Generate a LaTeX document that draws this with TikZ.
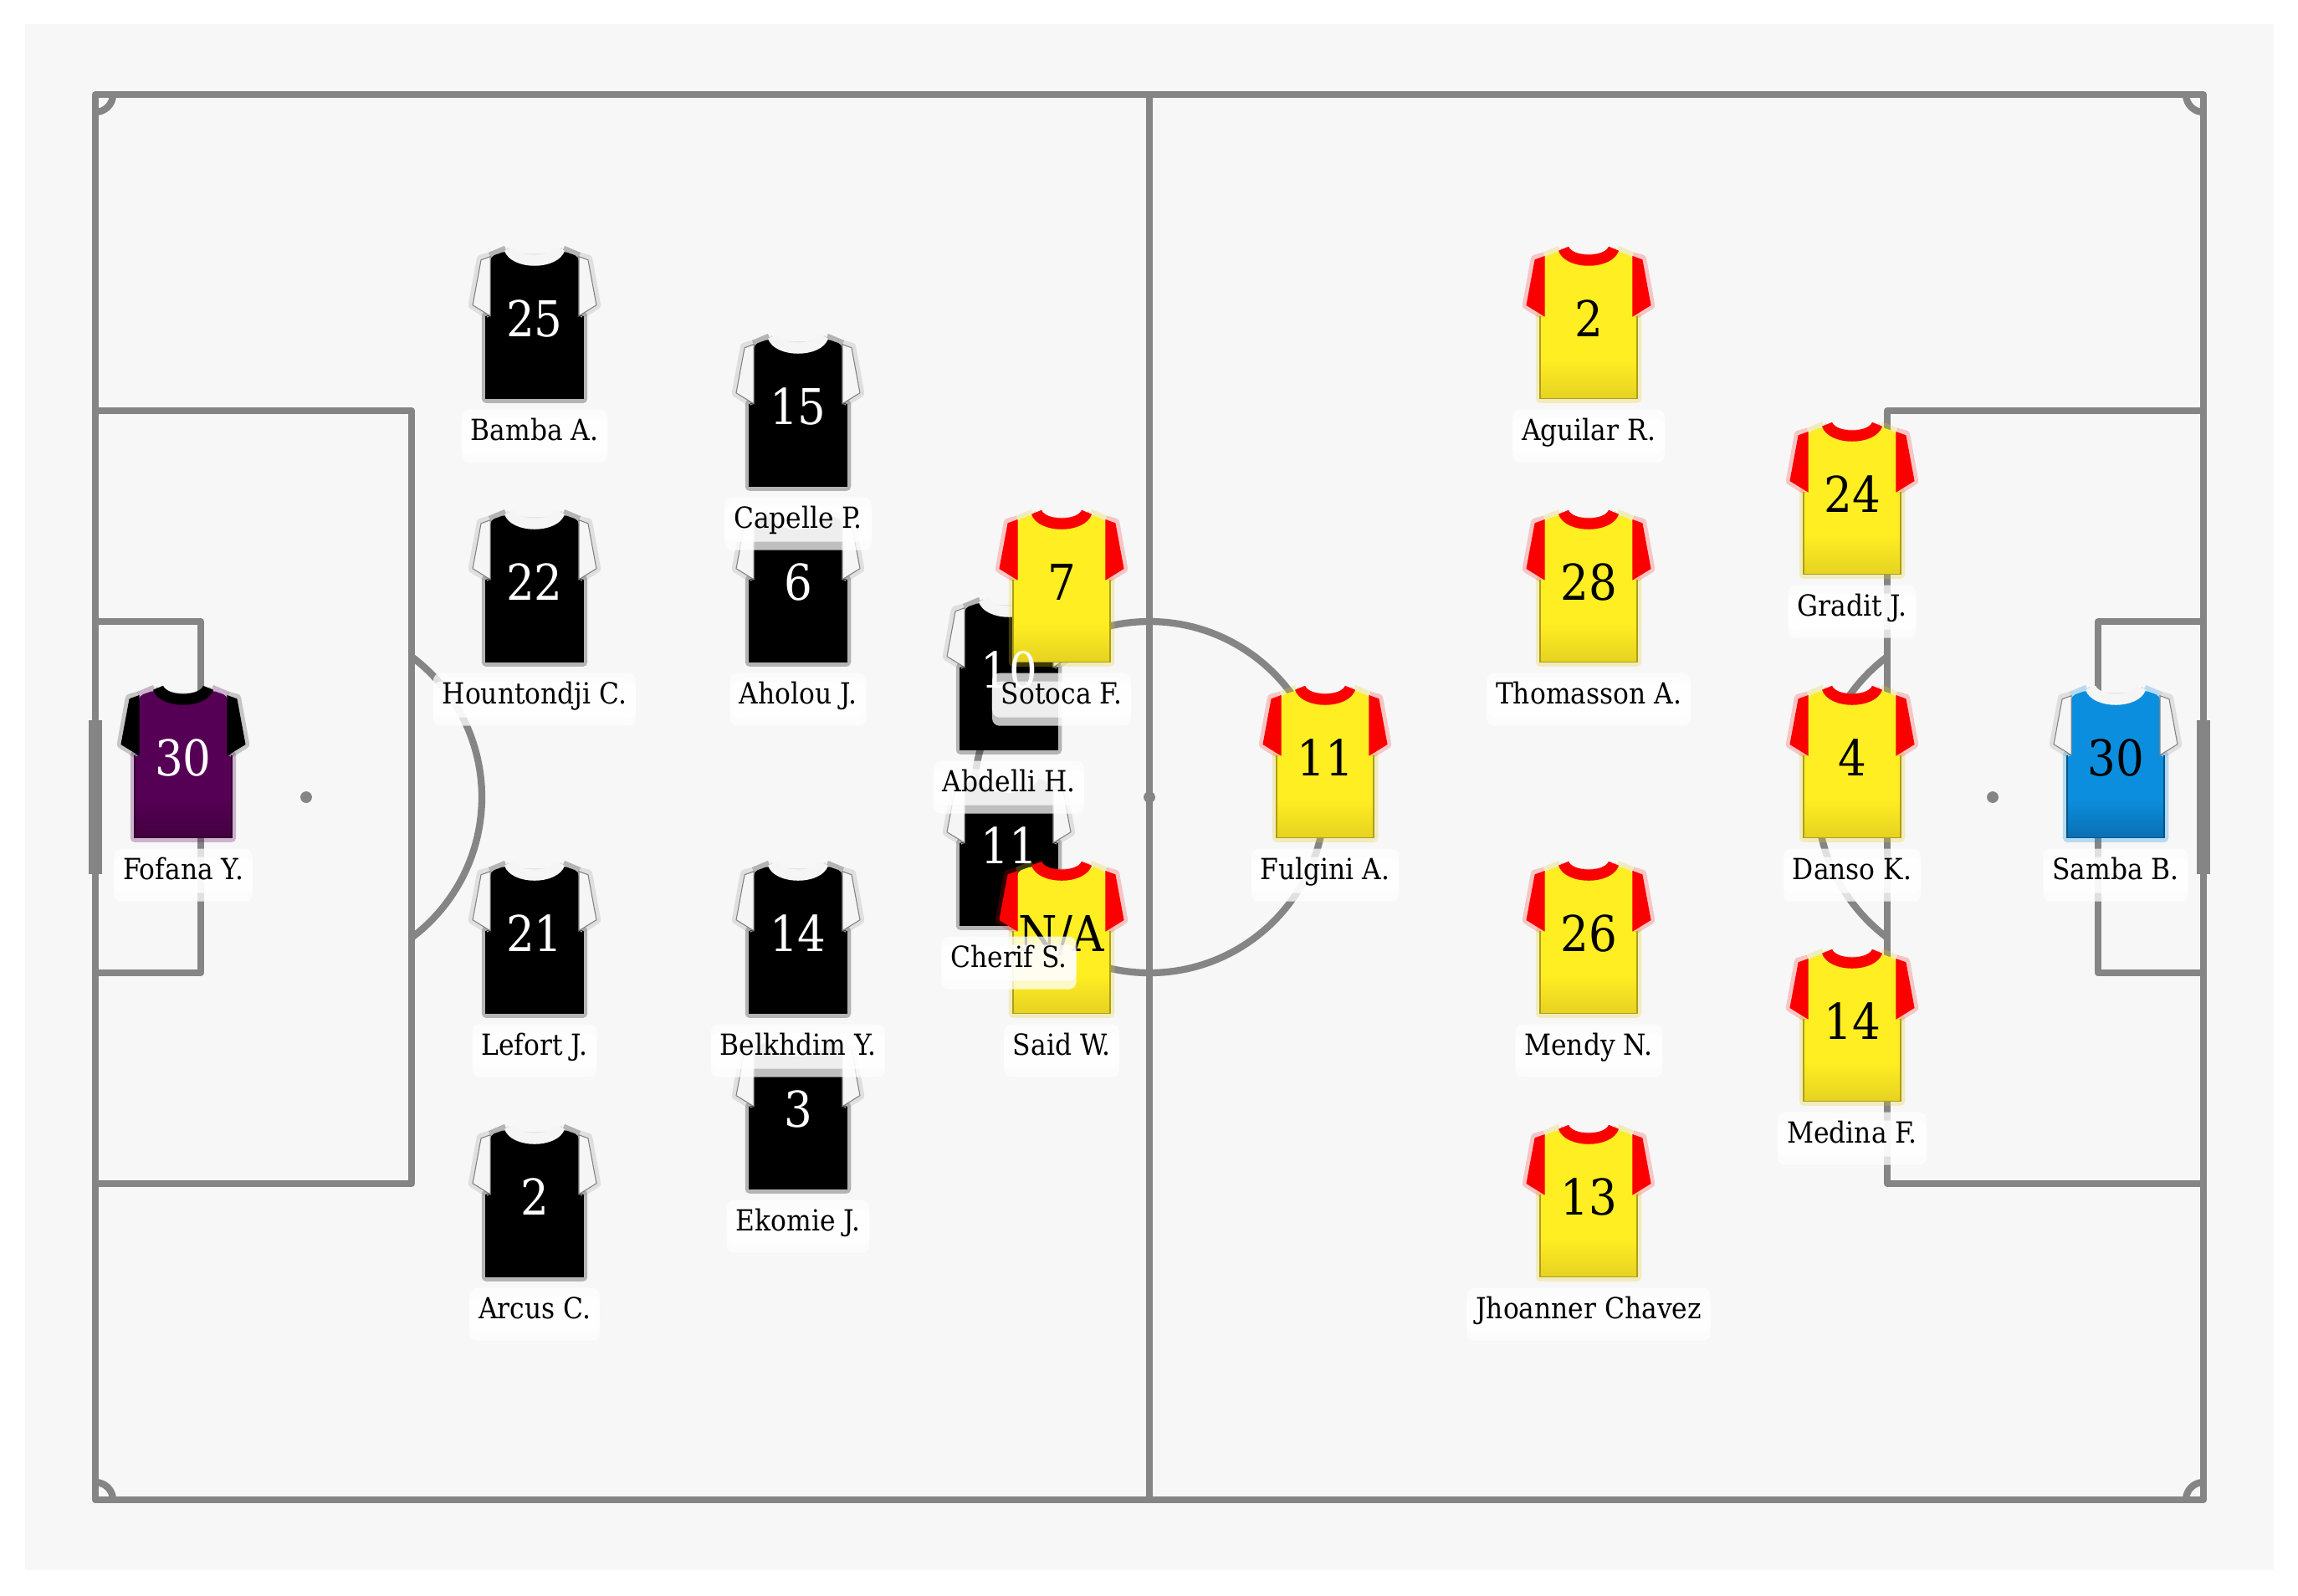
\documentclass[tikz,border=0pt]{standalone}
\usepackage{fontspec}
\setmainfont{DejaVu Serif Condensed}
\usetikzlibrary{positioning}

\definecolor{pitchline}{HTML}{858585}
\definecolor{pitchbg}{HTML}{F7F7F7}
\definecolor{kitwhite}{HTML}{F5F5F5}
\definecolor{kitred}{HTML}{FA0000}
\definecolor{kityellow}{HTML}{FFEE22}
\definecolor{kityellowdark}{HTML}{E6D222}
\definecolor{kitpurple}{HTML}{550055}
\definecolor{kitpurpledark}{HTML}{42003F}
\definecolor{kitblue}{HTML}{0C8EDE}
\definecolor{kitbluedark}{HTML}{0A6FB2}

\tikzset{
  pitch/.style={draw=pitchline, line width=2.36pt, line join=round},
  numlabel/.style={anchor=base, inner sep=0pt, font=\fontsize{16.8}{18}\selectfont},
  namebox/.style={fill=white, fill opacity=.75, rounded corners=.09cm, inner ysep=0pt, inner xsep=.11cm, font=\fontsize{9.9}{11}\selectfont},
  nametext/.style={anchor=base, inner sep=0pt, font=\fontsize{9.9}{11}\selectfont}
}

% #1 x, #2 y, #3 body, #4 hem, #5 sleeves and collar, #6 body glow, #7 sleeve edge
\newcommand{\shirt}[7]{
\begin{scope}[shift={(#1,#2+2.7)}, x=.01cm, y=-.01cm]
% soft edge round the kit
\draw[#6, opacity=.27, line width=3pt, line join=round]
  (-53,-2) -- (-58,-2) -- (-58,97) -- (58,97) -- (58,-2) -- (53,-2) (53,-73) -- (34,-81)
  (-34,-81) -- (-53,-73);
\foreach \s in {-1,1}
\draw[#7, opacity=.2, line width=3pt, line join=round] (\s*53,-73) -- (\s*64,-70) -- (\s*74,-15) -- (\s*53,-2);
\draw[#7, opacity=.2, line width=2pt] (-34,-81) .. controls (-20,-70) and (20,-70) .. (34,-81);
% body
\fill[#3, rounded corners=1.5pt] (-53,-73) -- (-33,-80) .. controls (-18,-62) and (18,-62) .. (33,-80) -- (53,-73) -- (53,-2) -- (58,-2) -- (58,97) -- (-58,97) -- (-58,-2) -- (-53,-2) -- cycle;
\shade[top color=#3, bottom color=#4] (-58,50) rectangle (58,97);
\draw[#4!75!black, line width=.4pt] (-58,-2) -- (-58,97) -- (58,97) -- (58,-2);
% sleeves
\foreach \s in {-1,1}
\filldraw[fill=#5, draw=#7, line width=.3pt] (\s*53,-73) -- (\s*64,-69) -- (\s*74,-15) -- (\s*53,-2) -- cycle;
% collar
\fill[#5] (-36,-80) .. controls (-28,-56) and (28,-56) .. (36,-80) -- (24,-85) .. controls (18,-72) and (-18,-72) .. (-24,-85) -- cycle;
\end{scope}
}

% one name tag under a kit, #1 x, #2 y, #3 tag, #4 name
\newcommand{\nametag}[4]{
  \node[namebox, minimum height=.63cm] (box#3) at ([yshift=-1.415cm]#1,#2+2.7) {\phantom{#4}};
  \node[namebox, minimum height=.43cm] at (box#3) {\phantom{#4}};
  \node[nametext] (name#3) at ([yshift=-1.47cm]#1,#2+2.7) {#4};
}

% x/y/tag/number/name
\def\blackside{5/35/fofana/30/Fofana Y., 25/10/bamba/25/Bamba A., 25/25/hountondji/22/Hountondji C., 25/45/lefort/21/Lefort J., 25/60/arcus/2/Arcus C., 40/15/capelle/15/Capelle P., 40/25/aholou/6/Aholou J., 40/45/belkhdim/14/Belkhdim Y., 40/55/ekomie/3/Ekomie J., 52/30/abdelli/10/Abdelli H., 52/40/cherif/11/Cherif S.}
\def\yellowside{115/35/samba/30/Samba B., 100/20/gradit/24/Gradit J., 100/35/danso/4/Danso K., 100/50/medina/14/Medina F., 85/10/aguilar/2/Aguilar R., 85/25/thomasson/28/Thomasson A., 85/45/mendy/26/Mendy N., 85/60/chavez/13/Jhoanner Chavez, 70/35/fulgini/11/Fulgini A., 55/25/sotoca/7/Sotoca F., 55/45/said/{N/A}/Said W.}

\begin{document}
\begin{tikzpicture}[x=.21cm, y=-.21cm]
\useasboundingbox (-5.4286,-5.381) rectangle (125.381,85.429);
\fill[pitchbg] (-4,-4) rectangle (124,84);

% pitch lines
\draw[pitch] (0,0) rectangle (120,80);
\draw[pitch] (60,0) -- (60,80);
\draw[pitch] (60,40) circle (10);
\foreach \x/\y in {0/18,102/18} % penalty boxes
\draw[pitch] (\x,\y) rectangle ++(18,44);
\foreach \x/\y in {0/30,114/30} % six yard boxes
\draw[pitch] (\x,\y) rectangle ++(6,20);
\draw[pitch] (12,40) ++(-53.13:10) arc (-53.13:53.13:10);
\draw[pitch] (108,40) ++(126.87:10) arc (126.87:233.13:10);
\foreach \x in {12,60,108} % spots
\fill[pitchline] (\x,40) circle (.33);
\foreach \x in {0,120} % goals
\draw[pitchline, line width=4.8pt] (\x,35.6) -- (\x,44.4);
\draw[pitch] (1,0) arc (0:90:1);
\draw[pitch] (119,0) arc (180:90:1);
\draw[pitch] (1,80) arc (0:-90:1);
\draw[pitch] (119,80) arc (180:270:1);

% kits first, everything else goes on top
\foreach \x/\y/\t/\n/\m in \blackside {
  \ifnum\x=5 \shirt{\x}{\y}{kitpurple}{kitpurpledark}{black}{kitpurple}{black}
  \else \shirt{\x}{\y}{black}{black}{kitwhite}{black}{gray} \fi
}
\foreach \x/\y/\t/\n/\m in \yellowside {
  \ifnum\x=115 \shirt{\x}{\y}{kitblue}{kitbluedark}{kitwhite}{kitblue}{gray}
  \else \shirt{\x}{\y}{kityellow}{kityellowdark}{kitred}{kityellowdark}{kitred} \fi
}

% numbers
\foreach \x/\y/\t/\n/\m in \blackside
\node[numlabel, text=white] (num\t) at ([yshift=-.225cm]\x,\y+2.7) {\n};
\foreach \x/\y/\t/\n/\m in \yellowside
\node[numlabel] (num\t) at ([yshift=-.225cm]\x,\y+2.7) {\n};

% names
\foreach \x/\y/\t/\n/\m in \blackside {
  \nametag{\x}{\y}{\t}{\m}
}
\foreach \x/\y/\t/\n/\m in \yellowside {
  \nametag{\x}{\y}{\t}{\m}
}
\end{tikzpicture}
\end{document}
